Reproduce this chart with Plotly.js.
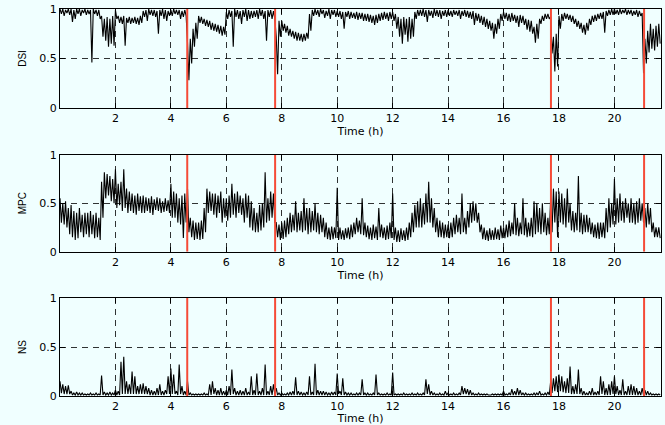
<!DOCTYPE html>
<html><head><meta charset="utf-8">
<script src="https://cdn.plot.ly/plotly-3.0.1.min.js"></script>
<style>html,body{margin:0;padding:0;background:#f0ffff;}#chart{width:665px;height:425px;}</style>
</head><body><div id="chart"></div>
<script>
// sampling step of the envelope arrays (hours); each bin gives its upper and lower value
const sampleStepH = 0.1;
const eventHours = [4.59, 7.76, 17.71, 21.07];
const xTickVals = [2, 4, 6, 8, 10, 12, 14, 16, 18, 20];
const yTickVals = [0, 0.5, 1];
const yTickText = ['0', '0.5', '1'];
const panelNames = ['DSI', 'MPC', 'NS'];
const xTitle = 'Time (h)';

const dsiHi = [
1,1,0.99,1,1,0.99,1,1,0.99,1,
0.99,0.99,1,0.99,0.99,0.93,0.9,0.92,0.9,0.93,
0.99,0.93,0.92,0.93,0.91,0.92,0.91,0.92,0.91,0.93,
0.98,0.99,1,0.99,0.99,0.98,0.99,1,0.99,0.98,
0.99,1,0.99,0.99,0.98,0.99,0.66,0.7,0.8,0.86,
0.93,0.92,0.9,0.89,0.88,0.86,0.85,0.84,0.83,0.82,
0.97,0.99,0.98,1,0.99,0.98,0.99,1,0.99,0.98,
0.98,0.99,1,0.99,0.98,0.99,0.99,0.98,0.72,0.88,
0.88,0.85,0.83,0.8,0.78,0.77,0.76,0.75,0.75,0.76,
0.95,0.99,1,0.99,1,0.99,0.98,1,0.99,0.99,
0.98,0.98,0.97,0.97,0.98,0.97,0.96,0.97,0.96,0.96,
0.95,0.95,0.94,0.93,0.94,0.95,0.96,0.97,0.96,0.97,
0.97,0.95,0.92,0.9,0.92,0.9,0.92,0.9,0.97,0.99,
0.99,1,0.99,0.99,0.98,1,0.99,0.99,0.98,0.99,
0.99,0.98,0.99,0.98,0.99,0.98,0.99,0.98,0.97,0.98,
0.96,0.95,0.93,0.92,0.9,0.88,0.86,0.85,0.9,0.95,
0.97,0.96,0.95,0.96,0.94,0.93,0.94,0.93,0.9,0.89,
0.88,0.82,0.85,0.9,0.93,0.95,0.95,0.92,0.72,0.75,
0.93,0.95,0.96,0.95,0.94,0.93,0.9,0.88,0.86,0.84,
0.86,0.9,0.93,0.94,0.95,0.96,0.97,0.98,0.99,1,
1,0.99,1,0.99,1,0.99,0.99,0.98,0.99,0.98,
0.96,0.7,0.78,0.85,0.8,0.83,0.85];
const dsiLo = [
0.95,0.93,0.96,0.94,0.87,0.9,0.95,0.93,0.96,0.94,
0.95,0.46,0.95,0.93,0.9,0.72,0.68,0.62,0.65,0.63,
0.9,0.86,0.85,0.63,0.86,0.85,0.86,0.85,0.84,0.86,
0.92,0.88,0.94,0.93,0.92,0.75,0.93,0.9,0.88,0.93,
0.93,0.95,0.94,0.9,0.92,0.93,0.28,0.45,0.62,0.7,
0.86,0.85,0.83,0.82,0.79,0.78,0.77,0.75,0.73,0.74,
0.9,0.92,0.62,0.92,0.9,0.85,0.92,0.88,0.9,0.91,
0.92,0.9,0.93,0.9,0.68,0.92,0.9,0.9,0.34,0.72,
0.78,0.76,0.73,0.72,0.7,0.68,0.68,0.67,0.68,0.7,
0.78,0.93,0.94,0.92,0.95,0.91,0.93,0.9,0.94,0.92,
0.92,0.9,0.8,0.92,0.9,0.91,0.9,0.89,0.9,0.88,
0.88,0.87,0.86,0.84,0.86,0.88,0.89,0.9,0.88,0.9,
0.88,0.8,0.72,0.65,0.74,0.67,0.7,0.72,0.9,0.93,
0.93,0.92,0.87,0.93,0.91,0.93,0.92,0.9,0.93,0.92,
0.93,0.92,0.94,0.93,0.9,0.93,0.92,0.91,0.9,0.84,
0.88,0.86,0.84,0.82,0.8,0.78,0.7,0.75,0.8,0.88,
0.9,0.88,0.87,0.88,0.86,0.82,0.86,0.84,0.79,0.77,
0.75,0.66,0.7,0.85,0.88,0.9,0.9,0.55,0.37,0.42,
0.8,0.88,0.9,0.89,0.87,0.85,0.82,0.8,0.76,0.74,
0.78,0.84,0.87,0.88,0.9,0.9,0.76,0.93,0.94,0.94,
0.95,0.94,0.95,0.96,0.94,0.95,0.93,0.94,0.92,0.93,
0.35,0.45,0.56,0.6,0.58,0.62,0.65];

const mpcHi = [
0.55,0.5,0.52,0.45,0.48,0.42,0.4,0.45,0.38,0.4,
0.4,0.42,0.38,0.4,0.35,0.72,0.82,0.8,0.78,0.75,
0.85,0.7,0.72,0.85,0.65,0.62,0.6,0.58,0.6,0.57,
0.58,0.56,0.55,0.57,0.54,0.56,0.55,0.52,0.55,0.53,
0.7,0.62,0.6,0.55,0.58,0.6,0.65,0.35,0.32,0.3,
0.3,0.32,0.45,0.65,0.62,0.6,0.6,0.58,0.62,0.55,
0.55,0.58,0.7,0.6,0.62,0.58,0.55,0.6,0.58,0.52,
0.45,0.4,0.48,0.5,0.82,0.55,0.62,0.6,0.3,0.28,
0.3,0.32,0.35,0.4,0.38,0.52,0.4,0.42,0.55,0.45,
0.45,0.42,0.5,0.4,0.38,0.35,0.3,0.25,0.26,0.25,
0.66,0.25,0.22,0.24,0.25,0.28,0.3,0.35,0.32,0.55,
0.3,0.27,0.25,0.28,0.26,0.45,0.28,0.25,0.27,0.3,
0.6,0.25,0.22,0.24,0.22,0.25,0.3,0.4,0.48,0.52,
0.55,0.5,0.6,0.72,0.55,0.45,0.35,0.32,0.3,0.28,
0.28,0.3,0.35,0.38,0.35,0.6,0.35,0.42,0.5,0.52,
0.5,0.4,0.28,0.25,0.22,0.24,0.22,0.25,0.23,0.27,
0.25,0.28,0.32,0.3,0.5,0.35,0.3,0.55,0.35,0.3,
0.35,0.52,0.5,0.45,0.5,0.4,0.35,0.55,0.65,0.62,
0.62,0.6,0.55,0.65,0.5,0.42,0.4,0.78,0.4,0.38,
0.38,0.35,0.3,0.28,0.3,0.3,0.3,0.45,0.55,0.5,
0.75,0.55,0.6,0.52,0.55,0.5,0.55,0.5,0.52,0.55,
0.5,0.45,0.5,0.45,0.3,0.25,0.25];
const mpcLo = [
0.3,0.28,0.25,0.18,0.15,0.12,0.14,0.2,0.15,0.18,
0.15,0.18,0.14,0.15,0.12,0.35,0.55,0.58,0.52,0.5,
0.45,0.48,0.42,0.45,0.4,0.42,0.4,0.38,0.42,0.4,
0.4,0.42,0.4,0.38,0.43,0.42,0.4,0.41,0.42,0.4,
0.35,0.35,0.3,0.28,0.14,0.3,0.2,0.15,0.12,0.13,
0.12,0.13,0.2,0.4,0.42,0.38,0.35,0.4,0.3,0.35,
0.32,0.35,0.38,0.35,0.4,0.38,0.3,0.35,0.25,0.22,
0.2,0.2,0.22,0.25,0.3,0.32,0.35,0.3,0.15,0.12,
0.13,0.15,0.18,0.2,0.22,0.2,0.22,0.2,0.22,0.18,
0.2,0.22,0.2,0.18,0.2,0.15,0.13,0.12,0.13,0.14,
0.12,0.13,0.12,0.14,0.13,0.15,0.18,0.2,0.18,0.17,
0.15,0.13,0.12,0.14,0.12,0.15,0.14,0.12,0.13,0.14,
0.12,0.1,0.1,0.12,0.11,0.12,0.15,0.2,0.25,0.25,
0.25,0.28,0.3,0.3,0.25,0.2,0.15,0.15,0.14,0.15,
0.14,0.15,0.18,0.2,0.18,0.2,0.18,0.25,0.3,0.32,
0.3,0.2,0.13,0.12,0.11,0.12,0.12,0.13,0.12,0.14,
0.14,0.15,0.16,0.18,0.17,0.16,0.18,0.17,0.15,0.16,
0.15,0.18,0.2,0.18,0.2,0.17,0.18,0.2,0.3,0.15,
0.3,0.28,0.25,0.3,0.22,0.2,0.22,0.2,0.18,0.2,
0.2,0.18,0.15,0.14,0.13,0.15,0.14,0.2,0.25,0.28,
0.28,0.3,0.32,0.3,0.35,0.3,0.3,0.28,0.3,0.32,
0.3,0.25,0.28,0.2,0.15,0.15,0.14];

const nsHi = [
0.15,0.12,0.1,0.11,0.05,0.03,0.04,0.03,0.03,0.02,
0.02,0.03,0.02,0.03,0.02,0.21,0.04,0.03,0.04,0.03,
0.06,0.05,0.35,0.4,0.15,0.12,0.25,0.2,0.1,0.12,
0.13,0.1,0.08,0.06,0.05,0.08,0.12,0.05,0.06,0.2,
0.28,0.22,0.05,0.32,0.1,0.05,0.15,0.03,0.02,0.02,
0.02,0.02,0.03,0.02,0.12,0.15,0.08,0.06,0.08,0.05,
0.06,0.1,0.27,0.08,0.05,0.06,0.05,0.08,0.04,0.2,
0.06,0.23,0.05,0.08,0.32,0.05,0.1,0.12,0.08,0.03,
0.03,0.02,0.03,0.04,0.05,0.19,0.05,0.04,0.03,0.04,
0.2,0.04,0.33,0.06,0.05,0.05,0.04,0.03,0.04,0.04,
0.23,0.05,0.18,0.04,0.03,0.03,0.02,0.03,0.03,0.17,
0.03,0.03,0.02,0.03,0.22,0.03,0.02,0.02,0.03,0.02,
0.24,0.02,0.02,0.02,0.03,0.02,0.02,0.03,0.02,0.03,
0.02,0.03,0.17,0.12,0.05,0.03,0.02,0.03,0.02,0.05,
0.03,0.02,0.03,0.02,0.03,0.1,0.08,0.07,0.06,0.03,
0.02,0.03,0.02,0.02,0.02,0.01,0.02,0.02,0.02,0.02,
0.05,0.02,0.03,0.07,0.05,0.08,0.06,0.03,0.03,0.02,
0.02,0.03,0.03,0.05,0.02,0.03,0.04,0.15,0.18,0.2,
0.22,0.2,0.15,0.18,0.3,0.1,0.12,0.27,0.08,0.05,
0.03,0.05,0.08,0.04,0.05,0.2,0.15,0.08,0.12,0.15,
0.2,0.1,0.06,0.17,0.05,0.1,0.12,0.1,0.08,0.05,
0.08,0.06,0.05,0.03,0.02,0.02,0.02];
const nsLo = [
0.03,0.02,0.02,0.02,0.01,0.01,0.01,0.01,0.01,0.01,
0.01,0.01,0.01,0.01,0.01,0.01,0.01,0.01,0.01,0.01,
0.01,0.01,0.02,0.02,0.02,0.02,0.02,0.02,0.02,0.02,
0.02,0.02,0.01,0.01,0.01,0.01,0.01,0.01,0.02,0.02,
0.02,0.02,0.01,0.02,0.01,0.01,0.01,0.01,0.01,0.01,
0.01,0.01,0.01,0.01,0.01,0.02,0.01,0.01,0.01,0.01,
0.01,0.01,0.02,0.01,0.01,0.01,0.01,0.01,0.01,0.01,
0.01,0.01,0.01,0.01,0.01,0.01,0.01,0.01,0.01,0.01,
0.01,0.01,0.01,0.01,0.01,0.01,0.01,0.01,0.01,0.01,
0.01,0.01,0.01,0.01,0.01,0.01,0.01,0.01,0.01,0.01,
0.02,0.01,0.01,0.01,0.01,0.01,0.01,0.01,0.01,0.01,
0.01,0.01,0.01,0.01,0.01,0.01,0.01,0.01,0.01,0.01,
0.01,0.01,0.01,0.01,0.01,0.01,0.01,0.01,0.01,0.01,
0.01,0.01,0.02,0.01,0.01,0.01,0.01,0.01,0.01,0.01,
0.01,0.01,0.01,0.01,0.01,0.02,0.02,0.01,0.01,0.01,
0.01,0.01,0.01,0.01,0.01,0.01,0.01,0.01,0.01,0.01,
0.01,0.01,0.01,0.01,0.01,0.01,0.01,0.01,0.01,0.01,
0.01,0.01,0.01,0.01,0.01,0.01,0.01,0.03,0.05,0.04,
0.05,0.04,0.03,0.03,0.02,0.02,0.02,0.02,0.01,0.01,
0.01,0.01,0.01,0.01,0.01,0.02,0.01,0.01,0.01,0.02,
0.02,0.01,0.01,0.01,0.01,0.01,0.01,0.01,0.01,0.01,
0.01,0.01,0.01,0.01,0.01,0.01,0.01];

// each bin is drawn as one up/down stroke between its upper and lower envelope value
function zigzag(hi, lo) {
  const x = [], y = [];
  for (let i = 0; i < hi.length; i++) {
    const t = i * sampleStepH;
    x.push(t, t + sampleStepH / 2);
    y.push(hi[i], lo[i]);
  }
  return {x, y};
}
function eventLines() {
  const x = [], y = [];
  eventHours.forEach(e => { x.push(e, e, null); y.push(0, 1, null); });
  return {x, y};
}

const series = [[dsiHi, dsiLo], [mpcHi, mpcLo], [nsHi, nsLo]];
const traces = [];
series.forEach((s, k) => {
  const z = zigzag(s[0], s[1]);
  const ax = k === 0 ? '' : String(k + 1);
  traces.push({x: z.x, y: z.y, type: 'scatter', mode: 'lines',
    line: {color: '#000', width: 1.1}, xaxis: 'x' + ax, yaxis: 'y' + ax,
    hoverinfo: 'skip', showlegend: false});
});
series.forEach((s, k) => {
  const ev = eventLines();
  const ax = k === 0 ? '' : String(k + 1);
  traces.push({x: ev.x, y: ev.y, type: 'scatter', mode: 'lines',
    line: {color: 'rgb(245,75,55)', width: 2}, xaxis: 'x' + ax, yaxis: 'y' + ax,
    hoverinfo: 'skip', showlegend: false});
});

const tickFont = {family: 'DejaVu Sans, sans-serif', size: 11, color: '#000'};
const domains = [[0.7442, 1.0], [0.3729, 0.6235], [0, 0.2532]];
const layout = {
  width: 665, height: 425,
  margin: {l: 60, r: 4, t: 9, b: 29},
  paper_bgcolor: '#f0ffff', plot_bgcolor: '#f0ffff',
  showlegend: false
};
domains.forEach((d, k) => {
  const ax = k === 0 ? '' : String(k + 1);
  layout['xaxis' + ax] = {
    domain: [0, 1], anchor: 'y' + ax, range: [0, 21.68],
    tickvals: xTickVals, ticks: 'inside', ticklen: 5, tickcolor: '#000',
    showline: true, linecolor: '#000', linewidth: 1, mirror: 'ticks',
    showgrid: true, gridcolor: '#000', griddash: '6px,5px', gridwidth: 0.8,
    zeroline: false, tickfont: tickFont,
    title: {text: xTitle, font: tickFont, standoff: 3}
  };
  layout['yaxis' + ax] = {
    domain: d, anchor: 'x' + ax, range: [0, 1],
    tickvals: yTickVals, ticktext: yTickText, ticks: 'inside', ticklen: 5, tickcolor: '#000',
    showline: true, linecolor: '#000', linewidth: 1, mirror: 'ticks',
    showgrid: true, gridcolor: '#000', griddash: '6px,5px', gridwidth: 0.8,
    zeroline: false, tickfont: tickFont,
    title: {text: panelNames[k], font: {family: 'Liberation Sans, Arial, sans-serif', size: 10, color: '#000'}, standoff: 10}
  };
});

Plotly.newPlot('chart', traces, layout, {staticPlot: true, displayModeBar: false});
</script></body></html>
